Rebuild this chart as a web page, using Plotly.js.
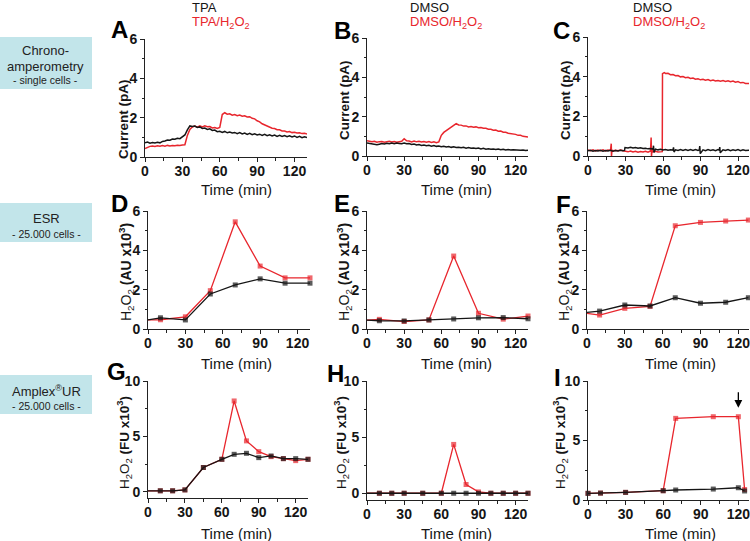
<!DOCTYPE html>
<html>
<head>
<meta charset="utf-8">
<script src="https://cdn.plot.ly/plotly-3.0.1.min.js"></script>
<style>html,body{margin:0;padding:0;background:#fff}#chart{width:750px;height:541px}</style>
</head>
<body>
<div id="chart"></div>
<script>
// ---------------- DATA ----------------
// Panel A: chronoamperometry, TPA (black) vs TPA/H2O2 (red), current in pA
const tA = [0,2,4,6,8,10,12,14,16,18,20,22,24,26,28,30,32,34,36,38,40,42,44,46,48,50,52,54,56,58,60,62,64,66,68,70,72,74,76,78,80,82,84,86,88,90,92,94,96,98,100,102,104,106,108,110,112,114,116,118,120,122,124,126,128,130];
const aBlack = [0.72,0.76,0.70,0.74,0.71,0.75,0.72,0.79,0.81,0.86,0.85,0.91,0.90,0.95,0.93,1.01,1.12,1.38,1.58,1.55,1.57,1.50,1.53,1.45,1.47,1.40,1.43,1.35,1.37,1.29,1.31,1.25,1.30,1.23,1.27,1.22,1.25,1.19,1.24,1.17,1.22,1.15,1.20,1.13,1.18,1.12,1.16,1.10,1.15,1.08,1.13,1.07,1.12,1.05,1.10,1.04,1.09,1.03,1.08,1.02,1.07,1.00,1.05,0.98,1.03,0.99];
const aRed = [0.43,0.50,0.54,0.56,0.54,0.57,0.55,0.58,0.55,0.59,0.56,0.59,0.57,0.60,0.58,0.61,0.62,1.10,1.40,1.53,1.57,1.52,1.58,1.53,1.59,1.54,1.55,1.48,1.50,1.45,1.50,2.16,2.25,2.18,2.20,2.13,2.16,2.10,2.13,2.07,2.10,2.04,2.05,1.97,1.94,1.84,1.79,1.69,1.63,1.54,1.52,1.46,1.45,1.39,1.38,1.32,1.32,1.27,1.29,1.24,1.26,1.22,1.23,1.19,1.21,1.17];

// Panel B: DMSO (black) vs DMSO/H2O2 (red), current in pA
const tB = [0,2,4,6,8,10,12,14,16,18,20,22,24,26,28,30,32,34,36,38,40,42,44,46,48,50,52,54,56,58,60,62,64,66,68,70,72,74,76,78,80,82,84,86,88,90,92,94,96,98,100,102,104,106,108,110,112,114,116,118,120,122,124,126,128,130];
const bBlack = [0.66,0.64,0.61,0.60,0.57,0.60,0.63,0.61,0.65,0.62,0.66,0.63,0.66,0.64,0.62,0.66,0.62,0.63,0.59,0.61,0.56,0.58,0.54,0.56,0.52,0.54,0.50,0.53,0.49,0.51,0.47,0.49,0.46,0.48,0.44,0.47,0.43,0.45,0.42,0.44,0.40,0.43,0.39,0.41,0.38,0.40,0.36,0.39,0.35,0.37,0.34,0.36,0.33,0.35,0.32,0.34,0.31,0.33,0.30,0.32,0.30,0.31,0.29,0.31,0.28,0.29];
const bRed = [0.78,0.73,0.72,0.75,0.70,0.73,0.74,0.70,0.73,0.75,0.71,0.74,0.70,0.73,0.75,0.88,0.77,0.76,0.72,0.76,0.72,0.75,0.71,0.74,0.70,0.73,0.69,0.72,0.68,0.72,1.05,1.20,1.29,1.34,1.46,1.54,1.65,1.58,1.57,1.52,1.53,1.48,1.50,1.46,1.48,1.44,1.45,1.41,1.41,1.36,1.36,1.31,1.32,1.26,1.27,1.21,1.21,1.16,1.15,1.11,1.10,1.05,1.05,1.00,1.00,0.97];

// Panel C: DMSO (black) vs DMSO/H2O2 (red), current in pA
const tCred = [0,2,4,6,8,10,12,14,16,18,18.6,18.8,19.2,20,22,24,26,28,30,32,34,36,38,40,42,44,46,48,50,50.5,50.8,51.2,52,54,56,58,59.4,59.6,61,62,64,66,68,70,72,74,76,78,80,82,84,86,88,90,92,94,96,98,100,102,104,106,108,110,112,114,116,118,120,122,124,126,128,129];
const cRed = [0.30,0.27,0.31,0.26,0.30,0.27,0.31,0.26,0.30,0.28,0.62,0.00,0.30,0.26,0.29,0.26,0.30,0.26,0.25,0.21,0.25,0.20,0.24,0.19,0.23,0.20,0.24,0.19,0.25,0.93,0.00,0.30,0.21,0.24,0.20,0.23,0.22,4.15,4.20,4.16,4.17,4.10,4.11,4.05,4.06,3.99,4.01,3.95,3.97,3.91,3.93,3.87,3.89,3.84,3.87,3.82,3.85,3.80,3.83,3.78,3.81,3.77,3.80,3.76,3.79,3.74,3.78,3.72,3.75,3.69,3.71,3.66,3.67,3.65];
const tCblack = [0,2,4,6,8,10,12,14,16,18,20,22,24,26,28,29.2,29.6,32,34,36,38,40,42,44,46,48,50,52,52.4,52.8,54,56,58,60,62,64,66,68,68.4,68.8,70,72,74,76,78,80,82,84,86,88,89,89.4,89.8,92,94,96,98,100,102,104,105,105.4,105.8,108,110,112,114,116,118,120,122,124,126,128,129];
const cBlack = [0.26,0.29,0.24,0.28,0.25,0.29,0.24,0.28,0.25,0.29,0.24,0.28,0.25,0.29,0.26,0.28,0.43,0.41,0.44,0.40,0.43,0.39,0.42,0.38,0.39,0.36,0.38,0.34,0.52,0.18,0.35,0.31,0.34,0.30,0.33,0.29,0.32,0.30,0.44,0.20,0.31,0.28,0.32,0.28,0.32,0.28,0.32,0.28,0.32,0.28,0.30,0.50,0.12,0.31,0.27,0.32,0.28,0.31,0.27,0.32,0.29,0.45,0.16,0.31,0.28,0.32,0.27,0.31,0.28,0.32,0.27,0.31,0.28,0.31,0.29];

// Panel D-F: ESR, H2O2 (AU x10^3)
const tESR = [0,10,30,50,70,90,110,130];
const dBlack = [0.46,0.57,0.46,1.78,2.24,2.55,2.33,2.33];
const dRed   = [0.46,0.47,0.62,1.95,5.45,3.20,2.60,2.60];
const eBlack = [0.45,0.42,0.41,0.46,0.51,0.57,0.58,0.52];
const eRed   = [0.45,0.49,0.38,0.46,3.71,0.80,0.50,0.66];
const tF = [0,10,30,50,70,90,110,128];
const fBlack = [0.85,0.91,1.22,1.17,1.59,1.31,1.36,1.59];
const fRed   = [0.80,0.71,1.05,1.15,5.25,5.42,5.49,5.54];

// Panel G-I: Amplex UR, H2O2 (FU x10^3)
const tAmp = [0,10,20,30,45,60,70,80,90,100,110,120,130];
const gBlack = [0.10,0.10,0.10,0.18,2.20,2.94,3.39,3.48,3.09,3.24,3.00,3.00,2.94];
const gRed   = [0.10,0.10,0.10,0.18,2.20,2.94,8.20,4.60,3.63,3.18,3.00,2.82,2.94];
const hBlack = [0,0,0,0,0,0,0,0,0,0,0,0,0];
const hRed   = [0,0,0,0,0,0,4.35,0.78,0.12,0,0,0,0];
const tI = [0,10,30,60,70,100,120,125];
const iBlack = [0.56,0.58,0.64,0.78,0.84,0.92,1.03,0.76];
const iRed   = [0.56,0.58,0.64,0.78,6.86,7.00,7.00,0.88];

// Labels
const panelLetters = ['A','B','C','D','E','F','G','H','I'];
const blackLabels = ['TPA','DMSO','DMSO'];
const redLabels = ['TPA/H<sub>2</sub>O<sub>2</sub>','DMSO/H<sub>2</sub>O<sub>2</sub>','DMSO/H<sub>2</sub>O<sub>2</sub>'];
const xTickVals = [0,30,60,90,120];
const xTitle = 'Time (min)';
const yTitleRow1 = 'Current (pA)';
const yTitleRow2 = 'H<sub>2</sub>O<sub>2</sub> <b>(AU x10<sup>3</sup>)</b>';
const yTitleRow3 = 'H<sub>2</sub>O<sub>2</sub> <b>(FU x10<sup>3</sup>)</b>';
const sideLabels = [['Chrono-','amperometry','- single cells -'],['ESR','- 25.000 cells -'],['Amplex<sup>®</sup>UR','- 25.000 cells -']];

// ---------------- STYLE / LAYOUT ----------------
const W = 750, H = 541;
const RED = '#e8262d', BLACK = '#151515';
const FONT = 'Liberation Sans, Arial, sans-serif';
const NARROW = 'Liberation Sans Narrow, Liberation Sans, Arial, sans-serif';
const px = x => x / W;
const py = y => 1 - y / H;

const panels = [
  {xd:[145,307], yd:[39,157],  xr:[0,130],   yr:[0,6],     dt:2, mt:1},
  {xd:[367,528], yd:[38,156],  xr:[0,130],   yr:[0,6],     dt:2, mt:1},
  {xd:[588,749], yd:[37,156],  xr:[0,128.8], yr:[0,6],     dt:2, mt:1},
  {xd:[148,310], yd:[211,329], xr:[0,130],   yr:[0,6],     dt:2, mt:1},
  {xd:[367,528], yd:[211,329], xr:[0,130],   yr:[0,6],     dt:2, mt:1},
  {xd:[587,749], yd:[211,329], xr:[0,128.5], yr:[0,6],     dt:2, mt:1},
  {xd:[148,308], yd:[381,498], xr:[0,130],   yr:[-0.55,10],dt:5, mt:2.5},
  {xd:[367,528], yd:[381,500], xr:[0,130],   yr:[-0.6,10], dt:5, mt:2.5},
  {xd:[588,749], yd:[381,500], xr:[0,128.5], yr:[0,10],    dt:5, mt:2.5}
];

const layout = {
  width: W, height: H,
  margin: {l:0, r:0, t:0, b:0},
  paper_bgcolor: '#fff', plot_bgcolor: 'rgba(0,0,0,0)',
  showlegend: false,
  font: {family: FONT, color: BLACK},
  annotations: [], shapes: []
};

panels.forEach((p, i) => {
  const n = i === 0 ? '' : String(i + 1);
  const tickfont = {family: FONT, size: 14, weight: 'bold', color: BLACK};
  layout['xaxis' + n] = {
    domain: [px(p.xd[0]), px(p.xd[1])], range: p.xr, anchor: 'y' + n,
    showline: true, linecolor: '#222', linewidth: 1, mirror: false,
    ticks: 'outside', ticklen: 4, tickwidth: 1, tickcolor: '#222',
    tickmode: 'array', tickvals: xTickVals, ticklabeloverflow: 'allow', ticklabelstandoff: -3,
    minor: {tickmode: 'linear', tick0: 0, dtick: 15, ticks: 'outside', ticklen: 2.5, tickcolor: '#222', showgrid: false},
    showgrid: false, zeroline: false, tickfont: tickfont, fixedrange: true
  };
  layout['yaxis' + n] = {
    domain: [py(p.yd[1]), py(p.yd[0])], range: p.yr, anchor: 'x' + n,
    showline: true, linecolor: '#222', linewidth: 1,
    ticks: 'outside', ticklen: 4, tickwidth: 1, tickcolor: '#222',
    tickmode: 'linear', tick0: 0, dtick: p.dt, ticklabeloverflow: 'allow',
    minor: {tickmode: 'linear', tick0: 0, dtick: p.mt, ticks: 'outside', ticklen: 2.5, tickcolor: '#222', showgrid: false},
    showgrid: false, zeroline: false, tickfont: tickfont, fixedrange: true
  };
});

// ---------------- TRACES ----------------
const traces = [];
function lineTrace(x, y, color, n) {
  traces.push({x, y, type: 'scatter', mode: 'lines', xaxis: 'x' + n, yaxis: 'y' + n,
    line: {color, width: 1.5}, hoverinfo: 'skip'});
}
function markTrace(x, y, color, n, firstMarker) {
  const sizes = x.map((v, k) => (k === 0 && !firstMarker) ? 0 : 5);
  traces.push({x, y, type: 'scatter', mode: 'lines+markers', xaxis: 'x' + n, yaxis: 'y' + n,
    line: {color, width: 1.3}, marker: {symbol: 'square', size: sizes, color, line: {width: 0}},
    cliponaxis: false, hoverinfo: 'skip'});
}
lineTrace(tA, aRed, RED, '');
lineTrace(tA, aBlack, BLACK, '');
lineTrace(tB, bRed, RED, '2');
lineTrace(tB, bBlack, BLACK, '2');
lineTrace(tCred, cRed, RED, '3');
lineTrace(tCblack, cBlack, BLACK, '3');
markTrace(tESR, dRed, RED, '4', false);
markTrace(tESR, dBlack, BLACK, '4', false);
markTrace(tESR, eRed, RED, '5', false);
markTrace(tESR, eBlack, BLACK, '5', false);
markTrace(tF, fRed, RED, '6', false);
markTrace(tF, fBlack, BLACK, '6', false);
markTrace(tAmp, gRed, RED, '7', false);
markTrace(tAmp, gBlack, BLACK, '7', false);
markTrace(tAmp, hRed, RED, '8', false);
markTrace(tAmp, hBlack, BLACK, '8', false);
markTrace(tI, iRed, RED, '9', true);
markTrace(tI, iBlack, BLACK, '9', true);

// ---------------- ANNOTATIONS ----------------
const A = layout.annotations;
function ann(text, x, y, opts) {
  A.push(Object.assign({text, x: px(x), y: py(y), xref: 'paper', yref: 'paper', showarrow: false,
    xanchor: 'center', yanchor: 'middle', font: {family: FONT, size: 13, color: BLACK}}, opts || {}));
}
// panel letters
const letterPos = [[119,29],[342,31],[561,30],[119,203],[342,203],[563,204],[116,371],[335,373],[557,377]];
panelLetters.forEach((L, i) => ann(L, letterPos[i][0], letterPos[i][1], {font: {family: FONT, size: 24, weight: 'bold', color: '#000'}}));
// header labels
const headX = [190, 408, 631];
blackLabels.forEach((t, i) => ann(t, headX[i], 7, {xanchor: 'left', font: {family: FONT, size: 13, color: BLACK}}));
redLabels.forEach((t, i) => ann(t, headX[i], 23, {xanchor: 'left', font: {family: FONT, size: 13, color: RED}}));
// x titles
const xtX = [236, 457, 680];
[189, 363, 533].forEach(yy => xtX.forEach(xx => ann(xTitle, xx, yy, {font: {family: FONT, size: 15, color: BLACK}})));
// y titles
const ytPos = [[123,119],[344,100],[565,100]];
ytPos.forEach(p => ann(yTitleRow1, p[0], p[1], {textangle: -90, font: {family: NARROW, size: 13.5, weight: 'bold', color: BLACK}}));
[[126,272],[344,272],[564,272]].forEach(p => ann(yTitleRow2, p[0], p[1], {textangle: -90, font: {family: NARROW, size: 14, color: BLACK}}));
[[124,443],[341,443],[560,443]].forEach(p => ann(yTitleRow3, p[0], p[1], {textangle: -90, font: {family: NARROW, size: 13.5, color: BLACK}}));
// side boxes
const boxes = [[37,89],[203,242],[375,414]];
boxes.forEach(b => layout.shapes.push({type: 'rect', xref: 'paper', yref: 'paper', x0: 0, x1: px(92), y0: py(b[1]), y1: py(b[0]), fillcolor: '#c2e5ea', line: {width: 0}, layer: 'below'}));
ann(sideLabels[0][0], 45, 51, {font: {family: FONT, size: 13, color: '#222'}});
ann(sideLabels[0][1], 45, 66, {font: {family: FONT, size: 13, color: '#222'}});
ann(sideLabels[0][2], 45, 80, {font: {family: FONT, size: 10.5, color: '#222'}});
ann(sideLabels[1][0], 46, 218, {font: {family: FONT, size: 13, color: '#222'}});
ann(sideLabels[1][1], 46, 234, {font: {family: FONT, size: 10.5, color: '#222'}});
ann(sideLabels[2][0], 46, 391, {font: {family: FONT, size: 13, color: '#222'}});
ann(sideLabels[2][1], 46, 406, {font: {family: FONT, size: 10.5, color: '#222'}});
// arrow in panel I
A.push({x: 120, y: 7.75, xref: 'x9', yref: 'y9', ax: 0, ay: -17, text: '', showarrow: true,
  arrowhead: 2, arrowsize: 1.2, arrowwidth: 1.3, arrowcolor: '#000'});

Plotly.newPlot('chart', traces, layout, {staticPlot: true, displayModeBar: false});
</script>
</body>
</html>
